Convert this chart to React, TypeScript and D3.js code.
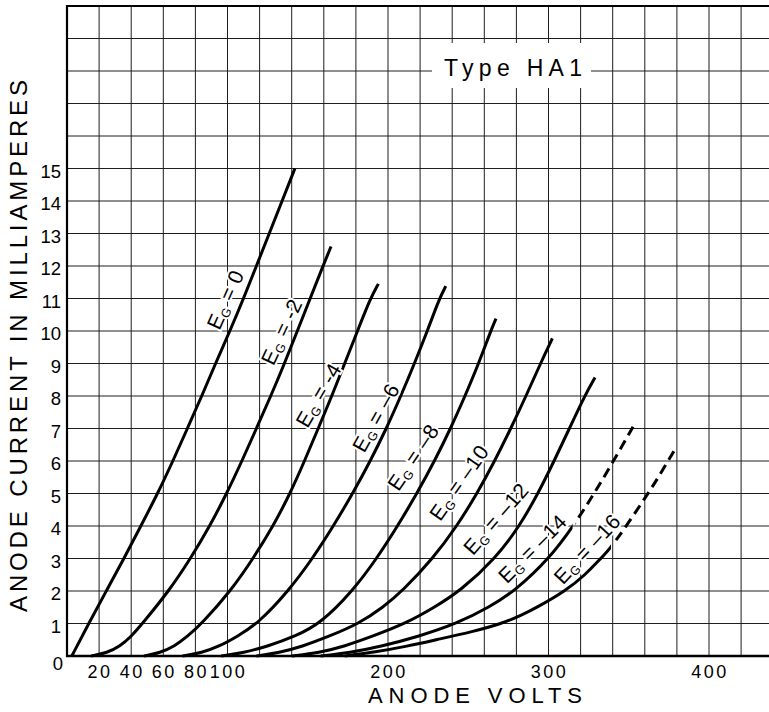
import React from "react";
import * as d3 from "d3";

const W = 769;
const H = 712;

// grid and tick values
const gridVolts = d3.range(0, 421, 20);
const gridMa = d3.range(0, 21, 1);
const yTickLabels = d3.range(1, 16);
const xTickLabels = [20, 40, 60, 80, 100, 200, 300, 400];

// characteristic curves: [anode volts, anode mA]
const eg0: [number, number][] = [
  [3, 0], [13.5, 1], [24.5, 2], [35.5, 3], [46, 4], [56.5, 5], [66, 6], [75, 7],
  [84, 8], [92.5, 9], [101.5, 10], [110, 11], [118, 12], [126, 13], [134, 14], [142, 15],
];
const eg2: [number, number][] = [
  [15, 0], [25, 0.1], [33, 0.3], [40, 0.6], [47, 1], [63.5, 2], [77, 3], [89, 4], [99.5, 5],
  [109, 6], [118, 7], [127, 8], [135.5, 9], [143.5, 10], [151.5, 11], [159.5, 12], [164.5, 12.6],
];
const eg4: [number, number][] = [
  [48, 0], [58, 0.1], [67, 0.3], [75, 0.6], [84, 1], [102, 2], [116, 3], [128.5, 4], [139, 5],
  [148, 6], [156.5, 7], [165, 8], [173, 9], [181, 10], [189, 11], [194, 11.45],
];
const eg6: [number, number][] = [
  [72, 0], [84, 0.1], [95, 0.3], [106, 0.6], [119, 1], [138, 2], [153, 3], [166, 4], [178, 5],
  [189, 6], [199, 7], [208, 8], [216.5, 9], [224.5, 10], [232, 11], [236, 11.38],
];
const eg8: [number, number][] = [
  [96, 0], [110, 0.1], [125, 0.3], [142, 0.6], [158, 1], [178, 2], [193, 3], [206, 4], [218, 5],
  [229, 6], [239, 7], [248, 8], [256.5, 9], [264, 10], [267.3, 10.38],
];
const eg10: [number, number][] = [
  [118, 0], [132, 0.1], [147, 0.3], [163, 0.6], [182, 1], [197, 1.5], [209, 2], [228, 3], [243, 4],
  [255.5, 5], [266.5, 6], [276.5, 7], [286, 8], [295, 9], [302.4, 9.77],
];
const eg12: [number, number][] = [
  [140, 0], [157, 0.1], [173, 0.3], [190, 0.6], [211, 1], [229, 1.5], [245, 2], [267, 3], [282, 4],
  [293.5, 5], [303.5, 6], [313, 7], [322.5, 8], [329, 8.57],
];
const eg14: [number, number][] = [
  [158, 0], [176, 0.1], [196, 0.3], [219, 0.6], [243, 1], [263, 1.5], [279, 2],
  [300.5, 3], [315.5, 4], [328.5, 5], [340.5, 6], [353, 7.08],
];
const eg16: [number, number][] = [
  [173, 0], [192, 0.12], [212, 0.3], [230, 0.5], [253, 0.75], [271, 1], [283, 1.25], [293, 1.5],
  [310.5, 2], [323, 2.5], [332.5, 3], [338.3, 3.3], [348.5, 4], [362, 5], [367.5, 5.42], [378.8, 6.36],
];

const curves = [eg0, eg2, eg4, eg6, eg8, eg10, eg12, eg14, eg16];
// anode voltage beyond which each curve is drawn dashed (null: solid all the way)
const dashFromVolts: (number | null)[] = [null, null, null, null, null, null, null, 315, 339];

// curve labels (grid bias), placed in data coordinates
const labelBias = ["0", "-2", "-4", "–6", "–8", "–10", "–12", "–14", "–16"];
const labelVolts = [98.6, 133.6, 156.6, 192.4, 215.6, 244.2, 267.2, 290, 324];
const labelMa = [10.97, 9.98, 8.03, 7.34, 6.12, 5.34, 4.23, 3.31, 3.3];
const labelAngle = [-66, -65, -60, -61, -56, -55, -49, -45, -47];

const FONT = "'Liberation Sans', Arial, Helvetica, sans-serif";

export default function App() {
  const x = d3.scaleLinear().domain([0, 420]).range([67, 741.1]);
  const y = d3.scaleLinear().domain([0, 20]).range([656, 6]);
  const line = d3
    .line<[number, number]>()
    .x((d) => x(d[0]))
    .y((d) => y(d[1]))
    .curve(d3.curveBasis);

  const gridColor = "#1e1e1e";

  return (
    <svg
      width={W}
      height={H}
      viewBox={`0 0 ${W} ${H}`}
      style={{ position: "absolute", left: 0, top: 0, background: "#fff" }}
      fontFamily={FONT}
    >
      <defs>
        {dashFromVolts.map((dv, i) =>
          dv === null ? null : (
            <React.Fragment key={"cp" + i}>
              <clipPath id={`solid-${i}`}>
                <rect x={0} y={0} width={x(dv)} height={H} />
              </clipPath>
              <clipPath id={`dash-${i}`}>
                <rect x={x(dv) + 3} y={0} width={W} height={H} />
              </clipPath>
            </React.Fragment>
          )
        )}
      </defs>
      <rect x={0} y={0} width={W} height={H} fill="#fff" />
      {/* grid */}
      <g stroke={gridColor} strokeWidth={1}>
        {gridVolts.map((v) => (
          <line key={"v" + v} x1={x(v)} x2={x(v)} y1={y(20)} y2={y(0)} />
        ))}
        {gridMa.map((m) => (
          <line key={"h" + m} x1={x(0)} x2={W} y1={y(m)} y2={y(m)} />
        ))}
      </g>
      {/* frame */}
      <line x1={x(0)} x2={x(0)} y1={y(20) - 1} y2={y(0) + 1} stroke="#000" strokeWidth={2.2} />
      <line x1={x(0) - 1} x2={W} y1={y(0)} y2={y(0)} stroke="#000" strokeWidth={2.6} />
      <line x1={x(0) - 1} x2={W} y1={y(20)} y2={y(20)} stroke="#000" strokeWidth={2} />

      {/* title box */}
      <rect x={432} y={43} width={159} height={45} fill="#fff" />
      <text x={444} y={76} fontSize={23} textLength={138} lengthAdjust="spacing" fill="#000">
        Type HA1
      </text>

      {/* curves */}
      <g fill="none" stroke="#000" strokeWidth={3} strokeLinecap="butt">
        {curves.map((c, i) => {
          const d = line(c) || "";
          const dv = dashFromVolts[i];
          if (dv === null) return <path key={"c" + i} d={d} />;
          return (
            <g key={"c" + i}>
              <path d={d} clipPath={`url(#solid-${i})`} />
              <path d={d} clipPath={`url(#dash-${i})`} strokeDasharray="10 6" />
            </g>
          );
        })}
      </g>

      {/* curve labels */}
      {labelBias.map((b, i) => (
        <g
          key={"l" + i}
          transform={`translate(${x(labelVolts[i])},${y(labelMa[i])}) rotate(${labelAngle[i]})`}
        >
          <text
            x={0}
            y={7.5}
            textAnchor="middle"
            fontSize={21}
            letterSpacing={0.5}
            fill="#000"
            stroke="#fff"
            strokeWidth={4}
            paintOrder="stroke"
            style={{ whiteSpace: "pre" }}
          >
            E
            <tspan fontSize={12.5} dy={3}>
              G
            </tspan>
            <tspan dy={-3}>{" = " + b}</tspan>
          </text>
        </g>
      ))}

      {/* y tick labels */}
      <g fontSize={18.5} textAnchor="end" fill="#000">
        {yTickLabels.map((m) => (
          <text key={"yl" + m} x={x(0) - 6} y={y(m) + 9}>
            {m}
          </text>
        ))}
        <text x={x(0) - 4} y={y(0) + 14}>
          0
        </text>
      </g>

      {/* x tick labels */}
      <g fontSize={18} textAnchor="middle" letterSpacing={2.5} fill="#000">
        {xTickLabels.map((v) => (
          <text key={"xl" + v} x={x(v) + 1} y={y(0) + 22}>
            {v}
          </text>
        ))}
      </g>

      {/* axis titles */}
      <text
        x={475}
        y={703}
        fontSize={22}
        textAnchor="middle"
        textLength={214}
        lengthAdjust="spacing"
        fill="#000"
      >
        ANODE VOLTS
      </text>
      <text
        transform="translate(27,346) rotate(-90)"
        fontSize={24}
        textAnchor="middle"
        textLength={532}
        lengthAdjust="spacing"
        fill="#000"
      >
        ANODE CURRENT IN MILLIAMPERES
      </text>
    </svg>
  );
}
